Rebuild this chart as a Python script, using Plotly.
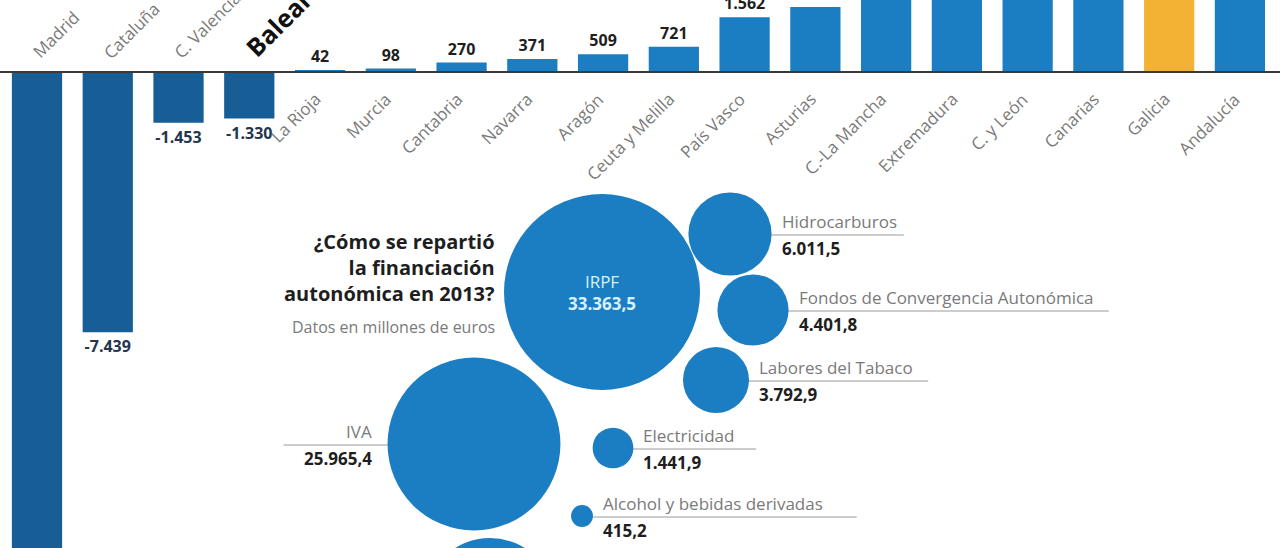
import math
import plotly.graph_objects as go

# Saldo de cada comunidad con el sistema de financiación (millones de euros)
regions = ["Madrid", "Cataluña", "C. Valenciana", "Baleares", "La Rioja", "Murcia",
           "Cantabria", "Navarra", "Aragón", "Ceuta y Melilla", "País Vasco", "Asturias",
           "C.-La Mancha", "Extremadura", "C. y León", "Canarias", "Galicia", "Andalucía"]
balance = [-15500, -7439, -1453, -1330, 42, 98, 270, 371, 509, 721, 1562, 1860,
           2300, 2500, 2700, 2900, 3100, 3600]
highlight = "Galicia"
bold_region = "Baleares"

# ¿Cómo se repartió la financiación autonómica en 2013?
tax_names = ["IRPF", "IVA", "Hidrocarburos", "Fondos de Convergencia Autonómica",
             "Labores del Tabaco", "Electricidad", "Alcohol y bebidas derivadas", ""]
tax_values = [33363.5, 25965.4, 6011.5, 4401.8, 3792.9, 1441.9, 415.2, 15100.0]

# packed-bubble layout, in pixels of the 1280x548 canvas
bubble_x = [602, 474, 730, 753, 716, 613, 582, 490]
bubble_y = [292, 444, 234, 310, 380, 448, 516, 604]
label_side = ["inside", "left", "right", "right", "right", "right", "right", None]

COLORS = {
    "neg": "#175e96",
    "pos": "#1b7dc2",
    "highlight": "#f4b234",
    "bubble": "#1b7dc2",
    "text": "#1e1e1e",
    "muted": "#7a7a7a",
    "rule": "#3a3a3a",
}
FONT = "Open Sans, Liberation Sans, sans-serif"
W, H = 1280, 548


def es_num(v, decimals=0):
    s = f"{v:,.{decimals}f}"
    return s.replace(",", "_").replace(".", ",").replace("_", ".")


bar_colors = [COLORS["highlight"] if r == highlight else (COLORS["neg"] if v < 0 else COLORS["pos"])
              for r, v in zip(regions, balance)]
text_colors = ["#23364d" if v < 0 else COLORS["text"] for v in balance]

fig = go.Figure()

fig.add_trace(go.Bar(
    x=regions,
    y=balance,
    marker=dict(color=bar_colors, line=dict(width=0)),
    text=[f"<b>{es_num(v)}</b>" for v in balance],
    textposition="outside",
    constraintext="none",
    cliponaxis=True,
    textfont=dict(size=16, color=text_colors, family=FONT),
    hovertemplate="<b>%{x}</b><br>%{y:,}<extra></extra>",
    showlegend=False,
))

# bubbles: area proportional to the amount
diam_max = 196
sizeref = 2 * max(tax_values) / diam_max ** 2
fig.add_trace(go.Scatter(
    x=bubble_x,
    y=bubble_y,
    xaxis="x2",
    yaxis="y2",
    mode="markers",
    marker=dict(size=tax_values, sizemode="area", sizeref=sizeref,
                color=COLORS["bubble"], opacity=1, line=dict(width=0)),
    text=tax_names,
    customdata=[es_num(v, 1) for v in tax_values],
    hovertemplate="%{text}<br>%{customdata}<extra></extra>",
    showlegend=False,
))

annotations = []
shapes = [dict(type="line", xref="paper", yref="y", x0=0, x1=1, y0=0, y1=0,
               line=dict(color=COLORS["rule"], width=2), layer="above")]

# region names, rotated
for r, v in zip(regions, balance):
    if v < 0:
        is_bold = r == bold_region
        annotations.append(dict(
            x=r, y=0, xref="x", yref="y", textangle=-45,
            text=f"<b>{r}</b>" if is_bold else r,
            xanchor="left", yanchor="bottom", xshift=-14 if is_bold else -12, yshift=6,
            showarrow=False,
            font=dict(size=25 if is_bold else 17, color="#111111" if is_bold else COLORS["muted"],
                      family=FONT),
        ))
    else:
        annotations.append(dict(
            x=r, y=0, xref="x", yref="y", textangle=-45, text=r,
            xanchor="right", yanchor="top", xshift=8, yshift=-13,
            showarrow=False, font=dict(size=17, color=COLORS["muted"], family=FONT),
        ))

# bubble labels
for name, v, cx, cy, side in zip(tax_names, tax_values, bubble_x, bubble_y, label_side):
    if side is None:
        continue
    r = math.sqrt(v / 2 / sizeref)
    val = es_num(v, 1)
    if side == "inside":
        annotations.append(dict(
            x=cx, y=cy, xref="x2", yref="y2", showarrow=False,
            text=f"{name}<br><b>{val}</b>", align="center",
            font=dict(size=17, color="#d9f1ff", family=FONT),
        ))
        continue
    width = max(len(name) * 9.4, len(val) * 11)
    if side == "right":
        tx = cx + r + 8
        anchor = "left"
        x0, x1 = cx, tx + width + 2
    else:
        tx = cx - r - 14
        anchor = "right"
        x0, x1 = tx - width - 2, cx
    shapes.append(dict(type="line", xref="x2", yref="y2", x0=x0, x1=x1, y0=cy + 1, y1=cy + 1,
                       line=dict(color="#9a9a9a", width=1), layer="below"))
    annotations.append(dict(
        x=tx, y=cy - 13, xref="x2", yref="y2", xanchor=anchor, yanchor="middle",
        showarrow=False, text=name, font=dict(size=17, color=COLORS["muted"], family=FONT),
    ))
    annotations.append(dict(
        x=tx, y=cy + 14, xref="x2", yref="y2", xanchor=anchor, yanchor="middle",
        showarrow=False, text=f"<b>{val}</b>", font=dict(size=17, color=COLORS["text"], family=FONT),
    ))

# title block
annotations.append(dict(
    x=497, y=226, xref="x2", yref="y2", xanchor="right", yanchor="top", align="right",
    showarrow=False,
    text="<b>¿Cómo se repartió<br>la financiación<br>autonómica en 2013?</b>",
    font=dict(size=20, color=COLORS["text"], family=FONT),
))
annotations.append(dict(
    x=497, y=327, xref="x2", yref="y2", xanchor="right", yanchor="middle",
    showarrow=False, text="Datos en millones de euros",
    font=dict(size=16, color=COLORS["muted"], family=FONT),
))

# 35 px per 1000 € and the zero line 72 px below the top
px_per_unit = 35 / 1000
baseline_px = 72
y_top = baseline_px / px_per_unit
y_bottom = -(H - baseline_px) / px_per_unit
step = 70.76
first_px = 37

fig.update_layout(
    width=W,
    height=H,
    margin=dict(l=0, r=0, t=0, b=0),
    paper_bgcolor="white",
    plot_bgcolor="white",
    font=dict(family=FONT, color=COLORS["text"]),
    bargap=0.29,
    xaxis=dict(visible=False, range=[-first_px / step, (W - first_px) / step], fixedrange=True),
    yaxis=dict(visible=False, range=[y_bottom, y_top], fixedrange=True),
    xaxis2=dict(visible=False, overlaying="x", range=[0, W], fixedrange=True),
    yaxis2=dict(visible=False, overlaying="y", range=[H, 0], fixedrange=True),
    shapes=shapes,
    annotations=annotations,
)

# drop the default page margin so the chart sits at the window's corner
fig.write_html("out.html", config={"displayModeBar": False},
               post_script="document.body.style.margin='0';")
